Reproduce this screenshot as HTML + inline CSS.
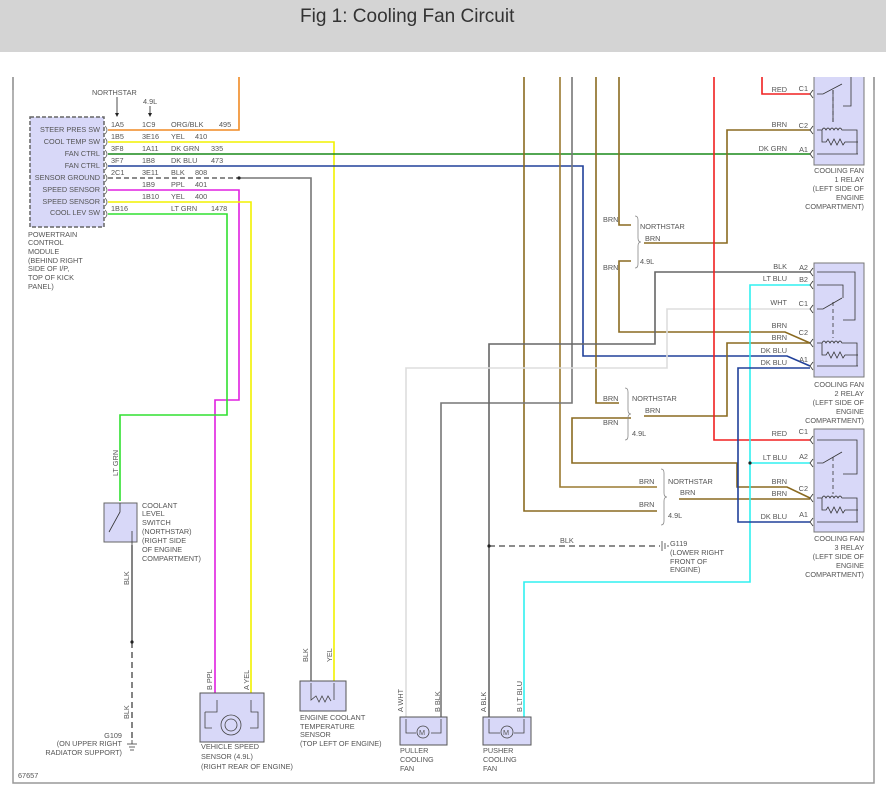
<!DOCTYPE html>
<html><head><meta charset="utf-8"><style>
html,body{margin:0;padding:0;background:#fff;width:886px;height:797px;overflow:hidden}
#hdr{position:absolute;left:0;top:0;width:886px;height:52px;background:#d4d4d4}
#hdr span{position:absolute;left:300px;top:6px;font:19px "Liberation Sans",sans-serif;color:#333}
svg{position:absolute;left:0;top:0}
text{font-family:"Liberation Sans",sans-serif;font-size:7.3px;fill:#555}
</style></head><body>
<div id="hdr"><span>Fig 1: Cooling Fan Circuit</span></div>
<svg width="886" height="797" viewBox="0 0 886 797">
<!-- frame -->
<path d="M13 77 V783 H874 V77" fill="none" stroke="#999" stroke-width="1.5"/>
<!-- PCM -->
<rect x="30" y="117" width="74" height="110" fill="#d8d8f8" stroke="#666" stroke-width="1.5" stroke-dasharray="4,2"/>
<g text-anchor="end">
<text x="100" y="132">STEER PRES SW</text><text x="100" y="144">COOL TEMP SW</text><text x="100" y="156">FAN CTRL</text><text x="100" y="168">FAN CTRL</text><text x="100" y="180">SENSOR GROUND</text><text x="100" y="192">SPEED SENSOR</text><text x="100" y="204">SPEED SENSOR</text><text x="100" y="215">COOL LEV SW</text>
</g>
<g fill="none" stroke="#666" stroke-width="0.8">
<path d="M105 126 q4 4 0 8 M105 138 q4 4 0 8 M105 150 q4 4 0 8 M105 162 q4 4 0 8 M105 174 q4 4 0 8 M105 186 q4 4 0 8 M105 198 q4 4 0 8 M105 210 q4 4 0 8"/>
</g>
<text x="28" y="237">POWERTRAIN</text><text x="28" y="245">CONTROL</text><text x="28" y="254">MODULE</text><text x="28" y="263">(BEHIND RIGHT</text><text x="28" y="271">SIDE OF I/P,</text><text x="28" y="280">TOP OF KICK</text><text x="28" y="289">PANEL)</text>
<text x="92" y="95">NORTHSTAR</text><text x="143" y="104">4.9L</text>
<path d="M117 97 V116 M150 106 V116" stroke="#222" stroke-width="0.8"/>
<path d="M115 113 L117 117 L119 113Z M148 113 L150 117 L152 113Z" fill="#222"/>
<g>
<text x="111" y="127">1A5</text><text x="142" y="127">1C9</text><text x="171" y="127">ORG/BLK</text><text x="219" y="127">495</text>
<text x="111" y="139">1B5</text><text x="142" y="139">3E16</text><text x="171" y="139">YEL</text><text x="195" y="139">410</text>
<text x="111" y="151">3F8</text><text x="142" y="151">1A11</text><text x="171" y="151">DK GRN</text><text x="211" y="151">335</text>
<text x="111" y="163">3F7</text><text x="142" y="163">1B8</text><text x="171" y="163">DK BLU</text><text x="211" y="163">473</text>
<text x="111" y="175">2C1</text><text x="142" y="175">3E11</text><text x="171" y="175">BLK</text><text x="195" y="175">808</text>
<text x="142" y="187">1B9</text><text x="171" y="187">PPL</text><text x="195" y="187">401</text>
<text x="142" y="199">1B10</text><text x="171" y="199">YEL</text><text x="195" y="199">400</text>
<text x="111" y="211">1B16</text><text x="171" y="211">LT GRN</text><text x="211" y="211">1478</text>
</g>
<!-- wires -->
<g fill="none" stroke-width="1.6">
<path d="M108 130 H239 V77" stroke="#f08a24"/>
<path d="M108 142 H334 V691" stroke="#f2f200"/>
<path d="M108 154 H810" stroke="#1a8a1a"/>
<path d="M108 166 H583 V356 H787 L810 366" stroke="#20409a"/>
<path d="M108 178 H239" stroke="#666" stroke-dasharray="5,3"/>
<path d="M239 178 H311 V691" stroke="#777"/>
<path d="M108 190 H239 V400 H215 V705" stroke="#e020e0"/>
<path d="M108 202 H251 V705" stroke="#f2f200"/>
<path d="M108 214 H227 V415 H120 V501" stroke="#30e030"/>
<path d="M132 545 V642" stroke="#666"/>
<path d="M132 642 V740" stroke="#666" stroke-dasharray="6,4"/>
<!-- brown -->
<path d="M524 77 V511 H657" stroke="#8a6a20"/>
<path d="M560 77 V487 H657" stroke="#9a7a30"/>
<path d="M596 77 V403 H619" stroke="#8a6a20"/>
<path d="M619 77 V225 H631" stroke="#8a6a20"/>
<path d="M631 261 H619 V332 H785 L810 343" stroke="#8a6a20"/>
<path d="M644 243 H727 V130 H810" stroke="#8a6a20"/>
<path d="M644 416 H727 V343 H810" stroke="#8a6a20"/>
<path d="M631 418 H572 V463 H737 V487 H787 L810 498" stroke="#8a6a20"/>
<path d="M679 499 H810" stroke="#8a6a20"/>
<!-- grays -->
<path d="M572 77 V403 H441 V717" stroke="#777"/>
<path d="M489 717 V344 H655 V272 H810" stroke="#666"/>
<path d="M406 717 V368 H667 V309 H810" stroke="#ddd"/>
<path d="M489 546 H660" stroke="#666" stroke-dasharray="6,4"/>
<!-- red -->
<path d="M714 77 V440 H810" stroke="#f02020"/>
<path d="M762 77 V94 H810" stroke="#f02020"/>
<!-- lt blu -->
<path d="M810 285 H750 V582 H524 V717" stroke="#30f0f0"/>
<path d="M750 463 H810" stroke="#30f0f0"/>
<!-- dk blu -->
<path d="M810 368 H738 V522 H810" stroke="#20409a"/>
</g>
<circle cx="239" cy="178" r="1.6" fill="#222"/><circle cx="132" cy="642" r="1.6" fill="#222"/><circle cx="489" cy="546" r="1.6" fill="#222"/><circle cx="750" cy="463" r="1.6" fill="#222"/>
<!-- brackets -->
<g fill="none" stroke="#888" stroke-width="0.8">
<path d="M635 216 q3 0 3 4 v18 q0 4 3 4 q-3 0 -3 4 v18 q0 4 -3 4"/>
<path d="M625 388 q3 0 3 4 v18 q0 4 3 4 q-3 0 -3 4 v18 q0 4 -3 4"/>
<path d="M661 469 q3 0 3 4 v20 q0 4 3 4 q-3 0 -3 4 v20 q0 4 -3 4"/>
</g>
<text x="603" y="222">BRN</text><text x="640" y="229">NORTHSTAR</text><text x="645" y="241">BRN</text><text x="603" y="270">BRN</text><text x="640" y="264">4.9L</text>
<text x="603" y="401">BRN</text><text x="632" y="401">NORTHSTAR</text><text x="645" y="413">BRN</text><text x="603" y="425">BRN</text><text x="632" y="436">4.9L</text>
<text x="639" y="484">BRN</text><text x="668" y="484">NORTHSTAR</text><text x="680" y="495">BRN</text><text x="639" y="507">BRN</text><text x="668" y="518">4.9L</text>
<text x="560" y="543">BLK</text>
<path d="M662 541 V551 M665 543 V549 M668 545 V547" stroke="#444" stroke-width="0.8"/>
<text x="670" y="546">G119</text><text x="670" y="555">(LOWER RIGHT</text><text x="670" y="564">FRONT OF</text><text x="670" y="572">ENGINE)</text>
<!-- relay wire labels -->
<g text-anchor="end">
<text x="787" y="92">RED</text><text x="808" y="91">C1</text>
<text x="787" y="127">BRN</text><text x="808" y="128">C2</text>
<text x="787" y="151">DK GRN</text><text x="808" y="152">A1</text>
<text x="787" y="269">BLK</text><text x="808" y="270">A2</text>
<text x="787" y="281">LT BLU</text><text x="808" y="282">B2</text>
<text x="787" y="305">WHT</text><text x="808" y="306">C1</text>
<text x="787" y="328">BRN</text><text x="808" y="335">C2</text>
<text x="787" y="340">BRN</text>
<text x="787" y="353">DK BLU</text><text x="808" y="362">A1</text>
<text x="787" y="365">DK BLU</text>
<text x="787" y="436">RED</text><text x="808" y="434">C1</text>
<text x="787" y="460">LT BLU</text><text x="808" y="459">A2</text>
<text x="787" y="484">BRN</text><text x="808" y="491">C2</text>
<text x="787" y="496">BRN</text>
<text x="787" y="519">DK BLU</text><text x="808" y="517">A1</text>
</g>
<!-- relays -->
<g fill="#d8d8f8" stroke="#777" stroke-width="1"><rect x="814" y="72" width="50" height="93"/><rect x="814" y="263" width="50" height="114"/><rect x="814" y="429" width="50" height="103"/></g>
<rect x="0" y="52" width="886" height="25" fill="#fff"/>
<path d="M13 77 V90 M874 77 V90" stroke="#999" stroke-width="1.5"/>
<g fill="none" stroke="#333" stroke-width="0.8">
<!-- relay1 -->
<path d="M813 90 l-3 4 l3 4 M813 126 l-3 4 l3 4 M813 150 l-3 4 l3 4"/>
<path d="M817 94 H823 L842 84 M843 106 H851 V77 M833 90 V122" />
<path d="M833 90 V122" stroke-dasharray="4,3"/>
<path d="M817 130 H822 q2-4 4 0 q2-4 4 0 q2-4 4 0 q2-4 4 0 q2-4 4 0 H857 V154 M822 130 V142 H826 l2-3 l3 6 l3-6 l3 6 l3-6 l3 6 l2-3 H858 M817 154 H858"/>
<!-- relay2 -->
<path d="M813 268 l-3 4 l3 4 M813 281 l-3 4 l3 4 M813 305 l-3 4 l3 4 M813 339 l-3 4 l3 4 M813 362 l-3 4 l3 4"/>
<path d="M817 272 H855 V320 H843 M817 285 H843 V298 M817 309 H823 L842 298"/>
<path d="M833 302 V338" stroke-dasharray="4,3"/>
<path d="M817 343 H822 q2-4 4 0 q2-4 4 0 q2-4 4 0 q2-4 4 0 q2-4 4 0 H857 V366 M822 343 V355 H826 l2-3 l3 6 l3-6 l3 6 l3-6 l3 6 l2-3 H858 M817 366 H858"/>
<!-- relay3 -->
<path d="M813 436 l-3 4 l3 4 M813 459 l-3 4 l3 4 M813 494 l-3 4 l3 4 M813 518 l-3 4 l3 4"/>
<path d="M817 440 H857 V474 H843 M817 463 H823 L842 452"/>
<path d="M833 457 V494" stroke-dasharray="4,3"/>
<path d="M817 498 H822 q2-4 4 0 q2-4 4 0 q2-4 4 0 q2-4 4 0 q2-4 4 0 H857 V522 M822 498 V510 H826 l2-3 l3 6 l3-6 l3 6 l3-6 l3 6 l2-3 H858 M817 522 H858"/>
</g>
<g text-anchor="end">
<text x="864" y="173">COOLING FAN</text><text x="864" y="182">1 RELAY</text><text x="864" y="191">(LEFT SIDE OF</text><text x="864" y="200">ENGINE</text><text x="864" y="209">COMPARTMENT)</text>
<text x="864" y="387">COOLING FAN</text><text x="864" y="396">2 RELAY</text><text x="864" y="405">(LEFT SIDE OF</text><text x="864" y="414">ENGINE</text><text x="864" y="423">COMPARTMENT)</text>
<text x="864" y="541">COOLING FAN</text><text x="864" y="550">3 RELAY</text><text x="864" y="559">(LEFT SIDE OF</text><text x="864" y="568">ENGINE</text><text x="864" y="577">COMPARTMENT)</text>
</g>
<!-- coolant switch -->
<rect x="104" y="503" width="33" height="39" fill="#d8d8f8" stroke="#666"/>
<path d="M120 503 V512 L109 532 M132 531 V545" stroke="#333" fill="none" stroke-width="0.8"/>
<text x="142" y="508">COOLANT</text><text x="142" y="516">LEVEL</text><text x="142" y="525">SWITCH</text><text x="142" y="534">(NORTHSTAR)</text><text x="142" y="543">(RIGHT SIDE</text><text x="142" y="552">OF ENGINE</text><text x="142" y="561">COMPARTMENT)</text>
<path d="M129 747 H135 M127 744 H137 M132 740 V744 M130 750 H134" stroke="#333" stroke-width="0.8"/>
<g text-anchor="end"><text x="122" y="738">G109</text><text x="122" y="746">(ON UPPER RIGHT</text><text x="122" y="755">RADIATOR SUPPORT)</text></g>
<!-- VSS -->
<rect x="200" y="693" width="64" height="49" fill="#d8d8f8" stroke="#555"/>
<path d="M205 712 H217 V700 M251 700 V712 H258 V728 H250 M205 712 V728 H212" fill="none" stroke="#444" stroke-width="0.8"/>
<circle cx="231" cy="725" r="10" fill="none" stroke="#444" stroke-width="0.8"/>
<circle cx="231" cy="725" r="6" fill="none" stroke="#444" stroke-width="0.8"/>
<text x="201" y="749">VEHICLE SPEED</text><text x="201" y="759">SENSOR   (4.9L)</text><text x="201" y="769">(RIGHT REAR OF ENGINE)</text>
<!-- ECT -->
<rect x="300" y="681" width="46" height="30" fill="#d8d8f8" stroke="#555"/>
<path d="M311 683 V700 L316 696 l3 6 l3-6 l3 6 l3-6 l3 5 M334 683 V700" fill="none" stroke="#444" stroke-width="0.8"/>
<text x="300" y="720">ENGINE COOLANT</text><text x="300" y="729">TEMPERATURE</text><text x="300" y="737">SENSOR</text><text x="300" y="746">(TOP LEFT OF ENGINE)</text>
<!-- fans -->
<rect x="400" y="717" width="47" height="28" fill="#d8d8f8" stroke="#555"/>
<rect x="483" y="717" width="48" height="28" fill="#d8d8f8" stroke="#555"/>
<g fill="none" stroke="#444" stroke-width="0.8">
<path d="M406 719 V733 H416 M441 719 V733 H431"/><circle cx="423" cy="732" r="6"/>
<path d="M489 719 V733 H500 M524 719 V733 H514"/><circle cx="507" cy="732" r="6"/>
</g>
<text x="419" y="735" font-size="8" fill="#336">M</text><text x="503" y="735" font-size="8" fill="#336">M</text>
<text x="400" y="753">PULLER</text><text x="400" y="762">COOLING</text><text x="400" y="771">FAN</text>
<text x="483" y="753">PUSHER</text><text x="483" y="762">COOLING</text><text x="483" y="771">FAN</text>
<!-- rotated labels -->
<g>
<text transform="translate(118,476) rotate(-90)">LT GRN</text>
<text transform="translate(129,585) rotate(-90)">BLK</text>
<text transform="translate(129,719) rotate(-90)">BLK</text>
<text transform="translate(212,690) rotate(-90)">B  PPL</text>
<text transform="translate(249,690) rotate(-90)">A  YEL</text>
<text transform="translate(308,662) rotate(-90)">BLK</text>
<text transform="translate(332,662) rotate(-90)">YEL</text>
<text transform="translate(403,712) rotate(-90)">A   WHT</text>
<text transform="translate(440,712) rotate(-90)">B   BLK</text>
<text transform="translate(486,712) rotate(-90)">A   BLK</text>
<text transform="translate(522,712) rotate(-90)">B  LT BLU</text>
</g>
<text x="18" y="778" font-size="7">67657</text>
</svg>
</body></html>
